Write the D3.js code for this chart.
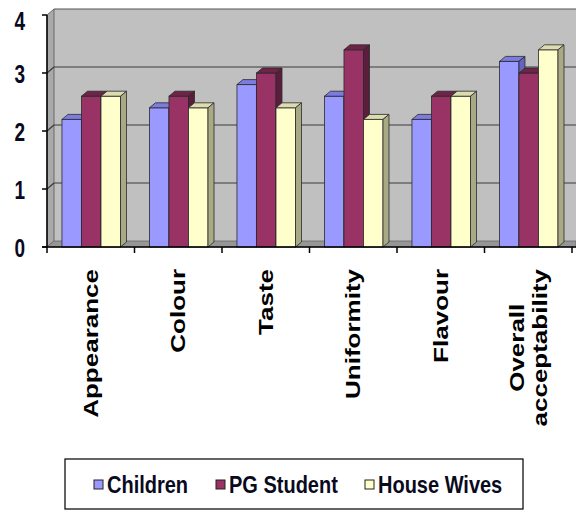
<!DOCTYPE html>
<html>
<head>
<meta charset="utf-8">
<script src="https://cdn.jsdelivr.net/npm/d3@7"></script>
<style>
  html, body { margin: 0; padding: 0; background: #fff; }
  svg { display: block; }
  text { font-family: "Liberation Sans", Arial, sans-serif; font-weight: bold; }
</style>
</head>
<body>
<svg id="chart" width="576" height="511"></svg>
<script>
// Sensory scores by attribute and panel group
const categories = ["Appearance", "Colour", "Taste", "Uniformity", "Flavour", "Overall acceptability"];
const categoryLines = [["Appearance"], ["Colour"], ["Taste"], ["Uniformity"], ["Flavour"], ["Overall", "acceptability"]];
const seriesNames = ["Children", "PG Student", "House Wives"];
const children   = [2.2, 2.4, 2.8, 2.6, 2.2, 3.2];
const pgStudent  = [2.6, 2.6, 3.0, 3.4, 2.6, 3.0];
const houseWives = [2.6, 2.4, 2.4, 2.2, 2.6, 3.4];
const yTicks = [0, 1, 2, 3, 4];

const seriesValues = [children, pgStudent, houseWives];
const faceColors = ["#9999ff", "#993366", "#ffffcc"];
const topColors  = ["#7c7ce0", "#6e2449", "#dcdcb0"];
const sideColors = ["#6363c4", "#5a1d3c", "#a9a986"];

const svg = d3.select("#chart");
const W = 576;

// plot frame
const plotLeft = 47, plotRight = 572, plotBottom = 247, plotTop = 15;
const wallDx = 7, wallDy = 6;   // depth of walls / floor
const barDx = 6, barDy = 5;     // depth of each column

const x0 = d3.scaleBand().domain(categories).range([plotLeft, plotRight]).paddingInner(0).paddingOuter(0);
const bw = x0.bandwidth();
const x1 = d3.scaleBand().domain(seriesNames).range([bw * 0.171, bw * 0.84]);
const y = d3.scaleLinear().domain([0, 4]).range([plotBottom, plotTop]);

const g = svg.append("g");

// back wall
g.append("rect")
  .attr("x", plotLeft + wallDx).attr("y", y(4) - wallDy)
  .attr("width", W - plotLeft - wallDx).attr("height", y(0) - y(4))
  .attr("fill", "#c0c0c0");
g.append("line")
  .attr("x1", plotLeft + wallDx).attr("x2", W)
  .attr("y1", y(4) - wallDy).attr("y2", y(4) - wallDy)
  .attr("stroke", "#555").attr("stroke-width", 1);

// left side wall
g.append("polygon")
  .attr("points", [[plotLeft, y(0)], [plotLeft, y(4)], [plotLeft + wallDx, y(4) - wallDy], [plotLeft + wallDx, y(0) - wallDy]].join(" "))
  .attr("fill", "#a9a9a9").attr("stroke", "#555").attr("stroke-width", 0.8);

// floor
g.append("polygon")
  .attr("points", [[plotLeft, y(0)], [W, y(0)], [W, y(0) - wallDy], [plotLeft + wallDx, y(0) - wallDy]].join(" "))
  .attr("fill", "#969696").attr("stroke", "#666").attr("stroke-width", 0.8);

// gridlines on the back wall, joined to the axis along the side wall
yTicks.filter(v => v > 0 && v < 4).forEach(v => {
  g.append("line")
    .attr("x1", plotLeft + wallDx).attr("x2", W)
    .attr("y1", y(v) - wallDy).attr("y2", y(v) - wallDy)
    .attr("stroke", "#3a3a3a").attr("stroke-width", 1.2);
  g.append("line")
    .attr("x1", plotLeft).attr("x2", plotLeft + wallDx)
    .attr("y1", y(v)).attr("y2", y(v) - wallDy)
    .attr("stroke", "#3a3a3a").attr("stroke-width", 1.2);
});

// columns, drawn left to right so each face hides the one behind it
categories.forEach((cat, ci) => {
  seriesNames.forEach((s, si) => {
    const v = seriesValues[si][ci];
    const bx = x0(cat) + x1(s);
    const w = x1.bandwidth();
    const yt = y(v), yb = y(0);
    const bar = g.append("g");
    bar.append("rect")
      .attr("x", bx).attr("y", yt).attr("width", w).attr("height", yb - yt)
      .attr("fill", faceColors[si]).attr("stroke", "#2a2a2a").attr("stroke-width", 0.8);
    bar.append("polygon")
      .attr("points", [[bx, yt], [bx + w, yt], [bx + w + barDx, yt - barDy], [bx + barDx, yt - barDy]].join(" "))
      .attr("fill", topColors[si]).attr("stroke", "#2a2a2a").attr("stroke-width", 0.8);
    bar.append("polygon")
      .attr("points", [[bx + w, yt], [bx + w + barDx, yt - barDy], [bx + w + barDx, yb - barDy], [bx + w, yb]].join(" "))
      .attr("fill", sideColors[si]).attr("stroke", "#2a2a2a").attr("stroke-width", 0.8);
  });
});

// value axis
g.append("line").attr("x1", plotLeft).attr("x2", plotLeft).attr("y1", y(4)).attr("y2", y(0))
  .attr("stroke", "#000").attr("stroke-width", 1.5);
yTicks.forEach(v => {
  g.append("line").attr("x1", plotLeft - 5).attr("x2", plotLeft).attr("y1", y(v)).attr("y2", y(v))
    .attr("stroke", "#000").attr("stroke-width", 1.5);
  const ly = Math.max(y(v) + 0.5, 20);  // keep the top label inside the frame
  g.append("text")
    .attr("transform", `translate(25,${ly}) scale(1,1.4)`)
    .attr("text-anchor", "end").attr("dy", "0.36em")
    .attr("font-size", 19).attr("fill", "#0a0a1e")
    .text(v);
});

// category axis
g.append("line").attr("x1", plotLeft - 5).attr("x2", W).attr("y1", y(0)).attr("y2", y(0))
  .attr("stroke", "#000").attr("stroke-width", 1.5);
d3.range(categories.length + 1).forEach(i => {
  const tx = plotLeft + i * bw;
  g.append("line").attr("x1", tx).attr("x2", tx).attr("y1", y(0)).attr("y2", y(0) + 6)
    .attr("stroke", "#000").attr("stroke-width", 1.5);
});

// rotated category labels; multi-line labels are centred on their longest line
const labelTop = 269, lineGap = 23, labelStretch = 1.3, labelSize = 20;
categories.forEach((cat, ci) => {
  const lines = categoryLines[ci];
  const cx = x0(cat) + bw / 2;
  const grp = g.append("g");
  const texts = lines.map(ln => grp.append("text")
    .attr("font-size", labelSize).attr("fill", "#000").text(ln));
  const lens = texts.map(t => t.node().getComputedTextLength() * labelStretch);
  const maxLen = d3.max(lens);
  texts.forEach((t, li) => {
    const bx = cx - (lines.length - 1) * lineGap / 2 + li * lineGap + 0.358 * labelSize;
    if (lines.length === 1) {
      t.attr("transform", `translate(${bx},${labelTop}) rotate(-90) scale(${labelStretch},1)`)
        .attr("text-anchor", "end");
    } else {
      t.attr("transform", `translate(${bx},${labelTop + maxLen / 2}) rotate(-90) scale(${labelStretch},1)`)
        .attr("text-anchor", "middle");
    }
  });
});

// legend
const legend = svg.append("g");
legend.append("rect").attr("x", 65).attr("y", 459).attr("width", 458).attr("height", 50)
  .attr("fill", "#fff").attr("stroke", "#111").attr("stroke-width", 1.3);
const legendX = [94, 216, 365];
seriesNames.forEach((s, si) => {
  legend.append("rect").attr("x", legendX[si]).attr("y", 480).attr("width", 9).attr("height", 9)
    .attr("fill", faceColors[si]).attr("stroke", "#222").attr("stroke-width", 1);
  legend.append("text")
    .attr("transform", `translate(${legendX[si] + 13},493) scale(1,1.19)`)
    .attr("font-size", 20).attr("fill", "#0a0a1e")
    .text(s);
});
</script>
</body>
</html>
